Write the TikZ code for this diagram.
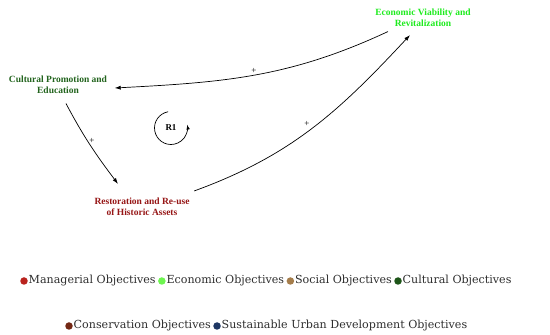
\documentclass[tikz,border=0pt]{standalone}
\usepackage{fontspec}
\setmainfont{Liberation Serif}
\newfontfamily\legendfont{DejaVu Serif}
\usetikzlibrary{arrows.meta}
\definecolor{econgreen}{RGB}{30, 235, 30}
\definecolor{cultgreen}{RGB}{35, 100, 30}
\definecolor{restred}{RGB}{150, 22, 22}
\definecolor{mgmtred}{RGB}{185, 35, 30}
\definecolor{econlight}{RGB}{110, 245, 80}
\definecolor{socialtan}{RGB}{165, 125, 75}
\definecolor{cultdark}{RGB}{30, 85, 25}
\definecolor{consbrown}{RGB}{115, 40, 20}
\definecolor{urbanblue}{RGB}{30, 55, 100}
\definecolor{legendtext}{RGB}{45, 45, 45}
\tikzset{
  var/.style={font=\fontsize{9.5}{11}\selectfont\bfseries, align=center, inner sep=0pt},
  link/.style={line width=0.7pt, -{Latex[length=6pt,width=4pt]}},
  sign/.style={font=\fontsize{9}{9}\selectfont, inner sep=0pt},
  dot/.style={circle, fill=#1, minimum size=7.5pt, inner sep=0pt},
  legend/.style={font=\legendfont\fontsize{11.1}{12}\selectfont, text=legendtext, inner sep=0pt, anchor=west}
}
\begin{document}
\begin{tikzpicture}[x=1pt, y=1pt]
\useasboundingbox (0,0) rectangle (550,335);
% Variables
\node[var, text=econgreen] (econ) at (423,317.5) {Economic Viability and\\Revitalization};
\node[var, text=cultgreen] (cult) at (58,250.5) {Cultural Promotion and\\Education};
\node[var, text=restred] (rest) at (142,128.5) {Restoration and Re-use\\of Historic Assets};

% Causal links
\draw[link] ([xshift=-35pt,yshift=-5pt]econ.south) to[out=205,in=3] ([xshift=7.5pt,yshift=-3.5pt]cult.east);
\draw[link] ([xshift=8pt,yshift=-10pt]cult.south) to[out=-62,in=127] ([xshift=-24pt,yshift=13.5pt]rest.north);
\draw[link] ([xshift=4.5pt,yshift=6.5pt]rest.north east) to[out=20,in=227] ([xshift=-13pt,yshift=-8.5pt]econ.south);

% Polarities
\node[sign] (p1) at (254,264) {+};
\node[sign] (p2) at (92,194) {+};
\node[sign] (p3) at (307,211) {+};

% Loop marker
\node[font=\fontsize{9}{9}\selectfont\bfseries, inner sep=0pt] (loop) at (171,207) {R1};
\draw[line width=0.7pt, -{Latex[length=5pt,width=3.5pt]}] (loop.center) ++(100:16.5) arc[start angle=100, end angle=372, radius=16.5];

% Legend
\node[dot=mgmtred] (d1) at (24,54) {};
\node[legend] (l1) at (28.5,54) {Managerial Objectives};
\node[dot=econlight] (d2) at ([xshift=6pt]l1.east) {};
\node[legend] (l2) at ([xshift=4.5pt]d2.center) {Economic Objectives};
\node[dot=socialtan] (d3) at ([xshift=6pt]l2.east) {};
\node[legend] (l3) at ([xshift=4.5pt]d3.center) {Social Objectives};
\node[dot=cultdark] (d4) at ([xshift=6pt]l3.east) {};
\node[legend] (l4) at ([xshift=4.5pt]d4.center) {Cultural Objectives};
\node[dot=consbrown] (d5) at (69,9) {};
\node[legend] (l5) at (73.5,9) {Conservation Objectives};
\node[dot=urbanblue] (d6) at ([xshift=6pt]l5.east) {};
\node[legend] (l6) at ([xshift=4.5pt]d6.center) {Sustainable Urban Development Objectives};
\end{tikzpicture}
\end{document}
